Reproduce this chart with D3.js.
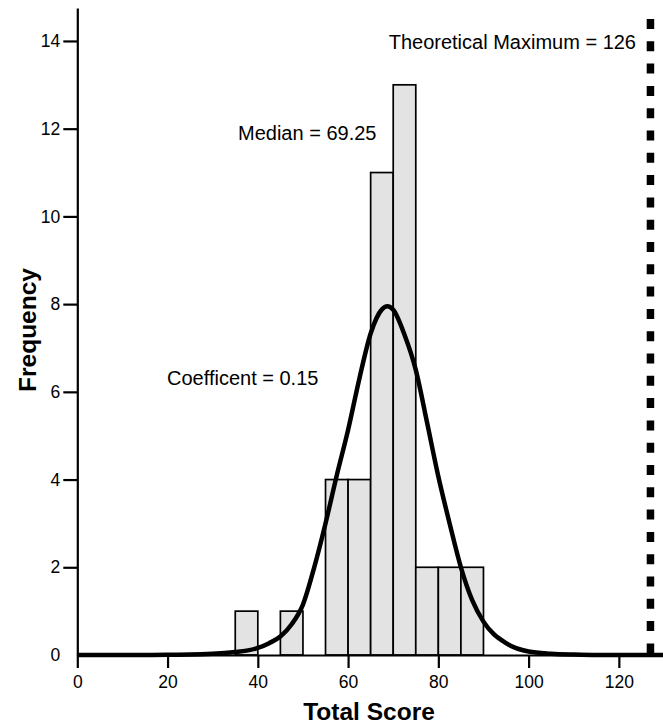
<!DOCTYPE html>
<html>
<head>
<meta charset="utf-8">
<script src="https://cdn.jsdelivr.net/npm/d3@7"></script>
<style>
  body { margin: 0; background: #fff; }
  svg { display: block; font-family: "Liberation Sans", Arial, sans-serif; }
</style>
</head>
<body>
<svg id="hist-svg" width="663" height="724"></svg>
<script>
// histogram bins (lower edge, upper edge, count)
let binStart = [35, 45, 55, 60, 65, 70, 75, 80, 85]
let binEnd = [40, 50, 60, 65, 70, 75, 80, 85, 90]
let binCount = [1, 1, 4, 4, 11, 13, 2, 2, 2]

// fitted curve
let curveX = [0, 10, 20, 25, 30, 35, 37.5, 40, 42.5, 45, 47.5, 50, 52.5, 55, 57.5, 60, 62.5, 65, 67.5, 68.7,
    70, 72.5, 75, 77.5, 80, 82.5, 85, 87.5, 90, 95, 100, 105, 110, 115, 130]
let curveY = [0, 0, 0.005, 0.01, 0.03, 0.07, 0.1, 0.16, 0.27, 0.42, 0.7, 1.15, 2.0, 3.0, 4.1, 5.13, 6.3, 7.33, 7.88, 7.95,
    7.87, 7.3, 6.5, 5.3, 4.07, 3.0, 2.0, 1.25, 0.76, 0.27, 0.08, 0.03, 0.01, 0, 0]

let xTicks = [0, 20, 40, 60, 80, 100, 120]
let yTicks = [0, 2, 4, 6, 8, 10, 12, 14]
let maxLineAt = [127]

let notes = [
    { text: "Theoretical Maximum = 126", x: 636, y: 49, anchor: "end" },
    { text: "Median = 69.25", x: 238, y: 140, anchor: "start" },
    { text: "Coefficent = 0.15", x: 167, y: 385, anchor: "start" }
]

let svg = d3.select("#hist-svg")
let left = 77.3
let bottom = 655

let xScale = d3.scaleLinear()
    .domain([0, 130])
    .range([left, left + 130 * 4.513])
let yScale = d3.scaleLinear()
    .domain([0, 14.75])
    .range([bottom, bottom - 14.75 * 43.86])

// bars
let bins = binCount.map((c, i) => ({ x0: binStart[i], x1: binEnd[i], n: c }))
svg.append("g")
    .selectAll("rect")
    .data(bins)
    .join("rect")
    .attr("x", d => xScale(d.x0))
    .attr("y", d => yScale(d.n))
    .attr("width", d => xScale(d.x1) - xScale(d.x0))
    .attr("height", d => yScale(0) - yScale(d.n))
    .attr("fill", "#e3e3e3")
    .attr("stroke", "#000")
    .attr("stroke-width", 1.7)

// axes
let xAxis = svg.append("g")
    .attr("transform", "translate(0," + bottom + ")")
    .call(d3.axisBottom(xScale).tickValues(xTicks).tickSize(13).tickSizeOuter(0).tickPadding(8))
let yAxis = svg.append("g")
    .attr("transform", "translate(" + left + ",0)")
    .call(d3.axisLeft(yScale).tickValues(yTicks).tickSize(14).tickSizeOuter(0).tickPadding(3))

for (let ax of [xAxis, yAxis]) {
    ax.select(".domain").attr("stroke", "#000").attr("stroke-width", 2.2)
    ax.selectAll(".tick line").attr("stroke", "#000").attr("stroke-width", 2.2)
    ax.selectAll(".tick text")
        .attr("fill", "#000")
        .style("font-size", "17.5px")
        .style("font-family", "'Liberation Sans', Arial, sans-serif")
}
yAxis.selectAll(".tick").filter(d => d === 0).select("line").attr("stroke", "none")

// theoretical maximum
svg.append("g")
    .selectAll("line")
    .data(maxLineAt)
    .join("line")
    .attr("x1", d => xScale(d))
    .attr("x2", d => xScale(d))
    .attr("y1", 19)
    .attr("y2", bottom)
    .attr("stroke", "#000")
    .attr("stroke-width", 7.5)
    .attr("stroke-dasharray", "10 12.3")

// fitted curve
let curvePts = curveX.map((x, i) => ({ x: x, y: curveY[i] }))
let valueLine = d3.line()
    .x(d => xScale(d.x))
    .y(d => yScale(d.y))
    .curve(d3.curveMonotoneX)
svg.append("path")
    .datum(curvePts)
    .attr("d", valueLine)
    .attr("fill", "none")
    .attr("stroke", "#000")
    .attr("stroke-width", 4.5)

// annotations
svg.append("g")
    .selectAll("text")
    .data(notes)
    .join("text")
    .attr("x", d => d.x)
    .attr("y", d => d.y)
    .attr("text-anchor", d => d.anchor)
    .style("font-size", "20px")
    .text(d => d.text)

// axis titles
svg.append("text")
    .attr("x", 369)
    .attr("y", 720)
    .attr("text-anchor", "middle")
    .style("font-size", "24.5px")
    .style("font-weight", "bold")
    .text("Total Score")
svg.append("text")
    .attr("transform", "translate(36,330) rotate(-90)")
    .attr("text-anchor", "middle")
    .style("font-size", "24.5px")
    .style("font-weight", "bold")
    .text("Frequency")
</script>
</body>
</html>
